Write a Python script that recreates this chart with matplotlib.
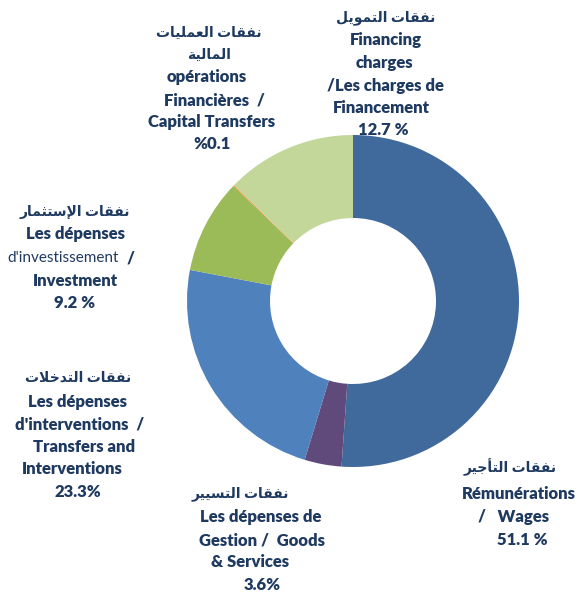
import matplotlib.pyplot as plt

# data
labels = ["Wages", "Goods & Services", "Transfers and Interventions",
          "Investment", "Capital Transfers", "Financing charges"]
shares = [51.1, 3.6, 23.3, 9.2, 0.1, 12.7]
colors = ["#40699C", "#604A7B", "#4F81BD", "#9BBB59", "#F79646", "#C4D79B"]

TXT = "#1F3A60"
W, H = 583, 595

# --- tiny arabic shaper (matplotlib has no bidi / joining) ---
FORMS = {  # isolated, final, initial, medial
    "ا": (0xFE8D, 0xFE8E), "أ": (0xFE83, 0xFE84), "إ": (0xFE87, 0xFE88),
    "ة": (0xFE93, 0xFE94), "د": (0xFEA9, 0xFEAA), "ر": (0xFEAD, 0xFEAE),
    "و": (0xFEED, 0xFEEE),
    "ت": (0xFE95, 0xFE96, 0xFE97, 0xFE98), "ث": (0xFE99, 0xFE9A, 0xFE9B, 0xFE9C),
    "ج": (0xFE9D, 0xFE9E, 0xFE9F, 0xFEA0), "خ": (0xFEA5, 0xFEA6, 0xFEA7, 0xFEA8),
    "س": (0xFEB1, 0xFEB2, 0xFEB3, 0xFEB4), "ع": (0xFEC9, 0xFECA, 0xFECB, 0xFECC),
    "ف": (0xFED1, 0xFED2, 0xFED3, 0xFED4), "ق": (0xFED5, 0xFED6, 0xFED7, 0xFED8),
    "ل": (0xFEDD, 0xFEDE, 0xFEDF, 0xFEE0), "م": (0xFEE1, 0xFEE2, 0xFEE3, 0xFEE4),
    "ن": (0xFEE5, 0xFEE6, 0xFEE7, 0xFEE8), "ي": (0xFEF1, 0xFEF2, 0xFEF3, 0xFEF4),
}
LAMALEF = {"ا": (0xFEFB, 0xFEFC), "أ": (0xFEF7, 0xFEF8), "إ": (0xFEF9, 0xFEFA)}


def shape(s):
    out = []
    i = 0
    while i < len(s):
        c = s[i]
        if c not in FORMS:
            out.append(c)
            i += 1
            continue
        prev = s[i - 1] if i > 0 else ""
        joins_prev = prev in FORMS and len(FORMS[prev]) == 4
        if c == "ل" and i + 1 < len(s) and s[i + 1] in LAMALEF:
            out.append(chr(LAMALEF[s[i + 1]][1 if joins_prev else 0]))
            i += 2
            continue
        nxt = s[i + 1] if i + 1 < len(s) else ""
        joins_next = len(FORMS[c]) == 4 and nxt in FORMS
        f = FORMS[c]
        if joins_prev and joins_next:
            out.append(chr(f[3]))
        elif joins_prev:
            out.append(chr(f[1]))
        elif joins_next:
            out.append(chr(f[2]))
        else:
            out.append(chr(f[0]))
        i += 1
    return "".join(out[::-1])


fig = plt.figure(figsize=(W / 100, H / 100), dpi=100)

# donut centred at (353, 301) px, outer radius 166 px
cx, cy, r = 353, 301, 166
ax = fig.add_axes([(cx - r) / W, 1 - (cy + r) / H, 2 * r / W, 2 * r / H])
ax.pie(shares, colors=colors, startangle=90, counterclock=False,
       radius=1, wedgeprops=dict(width=0.5, linewidth=0))
ax.set_xlim(-1, 1)
ax.set_ylim(-1, 1)
ax.axis("off")

FAM = ["Lato", "DejaVu Sans"]
AR = 10


def put(x, y, s, size=12, weight="heavy", ar=False):
    if ar:
        s = shape(s)
        weight = "bold"
    fig.text(x / W, 1 - y / H, s, ha="center", va="center", color=TXT,
             fontsize=size, fontweight=weight, family=FAM)


# capital transfers
put(209, 32, "نفقات العمليات", AR, ar=True)
put(209, 54, "المالية", AR, ar=True)
put(207, 77, "opérations")
put(214, 100, "Financières  /")
put(212, 122, "Capital Transfers")
put(212, 144, "%0.1")

# financing
put(386, 18, "نفقات التمويل", AR, ar=True)
put(386, 40, "Financing")
put(384, 63, "charges")
put(385, 86, "/Les charges de")
put(381, 108, "Financement")
put(383, 130, "12.7 %")

# investment
put(75, 212, "نفقات الإستثمار", AR, ar=True)
put(75, 234, "Les dépenses")
put(63, 258, "d'investissement", 11, "normal")
put(131, 258, "/")
put(75, 281, "Investment")
put(75, 303, "9.2 %")

# transfers
put(78, 378, "نفقات التدخلات", AR, ar=True)
put(78, 402, "Les dépenses")
put(80, 425, "d'interventions  /")
put(84, 447, "Transfers and")
put(72, 469, "Interventions")
put(78, 492, "23.3%")

# goods & services
put(240, 494, "نفقات التسيير", AR, ar=True)
put(261, 517, "Les dépenses de")
put(262, 540, "Gestion /  Goods")
put(250, 562, "& Services")
put(262, 585, "3.6%")

# wages
put(510, 467, "نفقات التأجير", AR, ar=True)
put(519, 494, "Rémunérations")
put(514, 517, "/   Wages")
put(522, 540, "51.1 %")

fig.savefig("out.png", dpi=100)
